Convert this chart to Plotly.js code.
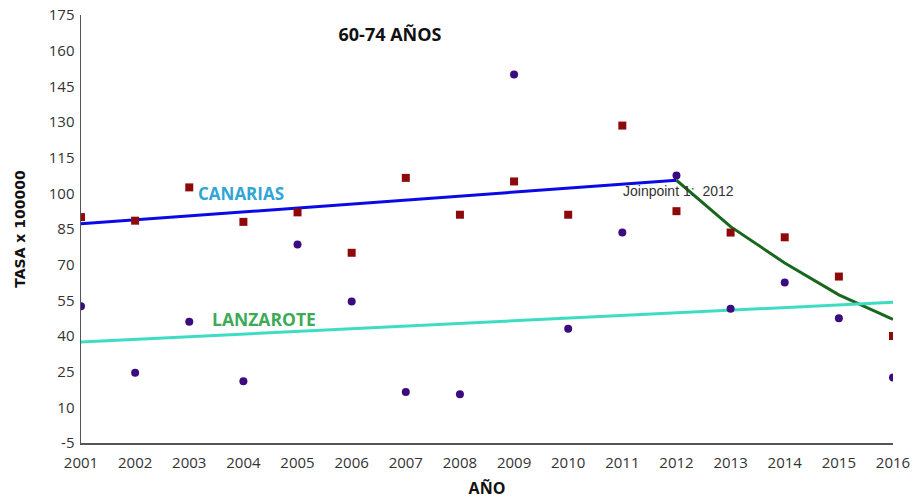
<!DOCTYPE html>
<html>
<head>
<meta charset="utf-8">
<script src="https://cdn.plot.ly/plotly-3.0.1.min.js"></script>
<style>
  body { margin: 0; background: #fff; }
  #chart { width: 914px; height: 500px; }
</style>
</head>
<body>
<div id="chart"></div>
<script>
// years on the x axis
const years = [2001, 2002, 2003, 2004, 2005, 2006, 2007, 2008,
               2009, 2010, 2011, 2012, 2013, 2014, 2015, 2016];

// observed rates (red squares = Canarias, purple dots = Lanzarote)
const canariasRates = [90, 88.5, 102.5, 88, 92, 75, 106.5, 91,
                       105, 91, 128.5, 92.5, 83.5, 81.5, 65, 40];
const lanzaroteRates = [52.5, 24.5, 46, 21, 78.5, 54.5, 16.5, 15.5,
                        150, 43, 83.5, 107.5, 51.5, 62.5, 47.5, 22.5];

// fitted joinpoint segments
const canariasFitYears1 = [2001, 2012];
const canariasFit1 = [87.2, 105.5];
const canariasFitYears2 = [2012, 2013, 2014, 2015, 2016];
const canariasFit2 = [105.5, 86, 70.7, 57.3, 47];
const lanzaroteFitYears = [2001, 2016];
const lanzaroteFit = [37.5, 54.2];

const yTicks = [-5, 10, 25, 40, 55, 70, 85, 100, 115, 130, 145, 160, 175];

const font = 'Open Sans, Liberation Sans, Arial, sans-serif';

const traces = [
    {
        x: canariasFitYears1, y: canariasFit1, type: 'scatter', mode: 'lines',
        line: { color: '#0a0ae6', width: 3 }, name: 'Canarias fit 1'
    },
    {
        x: canariasFitYears2, y: canariasFit2, type: 'scatter', mode: 'lines',
        line: { color: '#19661f', width: 3 }, name: 'Canarias fit 2'
    },
    {
        x: lanzaroteFitYears, y: lanzaroteFit, type: 'scatter', mode: 'lines',
        line: { color: '#3fdcc4', width: 3 }, name: 'Lanzarote fit'
    },
    {
        x: years, y: canariasRates, type: 'scatter', mode: 'markers',
        marker: { symbol: 'square', size: 8, color: '#8e0a0a' }, name: 'Canarias'
    },
    {
        x: years, y: lanzaroteRates, type: 'scatter', mode: 'markers',
        marker: { symbol: 'circle', size: 8, color: '#3b0b80' }, name: 'Lanzarote'
    }
];

const layout = {
    width: 914,
    height: 500,
    margin: { l: 81, r: 21, t: 15, b: 57 },
    paper_bgcolor: '#fff',
    plot_bgcolor: '#fff',
    showlegend: false,
    font: { family: font, size: 15, color: '#333' },
    title: {
        text: '<b>60-74 AÑOS</b>',
        font: { family: font, size: 18, color: '#111' },
        x: 390 / 914, xref: 'container', xanchor: 'center',
        y: 1 - 35 / 500, yref: 'container', yanchor: 'middle'
    },
    xaxis: {
        range: [2001, 2016],
        tickmode: 'array',
        tickvals: years,
        ticktext: years.map(String),
        showgrid: false,
        zeroline: false,
        showline: true,
        linecolor: '#555',
        linewidth: 1.5,
        ticks: '',
        ticklabelstandoff: 5,
        title: {
            text: '<b>AÑO</b>',
            font: { family: font, size: 16, color: '#111' },
            standoff: 12
        }
    },
    yaxis: {
        range: [-5, 175],
        tickmode: 'array',
        tickvals: yTicks,
        ticktext: yTicks.map(String),
        showgrid: false,
        zeroline: false,
        showline: true,
        linecolor: '#555',
        linewidth: 1.5,
        ticks: '',
        ticklabelstandoff: 2,
        title: {
            text: '<b>TASA x 100000</b>',
            font: { family: 'DejaVu Sans, sans-serif', size: 14, color: '#111' },
            standoff: 20
        }
    },
    annotations: [
        {
            x: 2003.12, y: 99.9, xref: 'x', yref: 'y', xanchor: 'left', yanchor: 'middle',
            text: '<b>CANARIAS</b>', showarrow: false,
            font: { family: font, size: 17, color: '#30a5d6' }
        },
        {
            x: 2003.38, y: 47.2, xref: 'x', yref: 'y', xanchor: 'left', yanchor: 'middle',
            text: '<b>LANZAROTE</b>', showarrow: false,
            font: { family: font, size: 17.5, color: '#3daa58' }
        },
        {
            x: 2010.98, y: 101.1, xref: 'x', yref: 'y', xanchor: 'left', yanchor: 'middle',
            text: 'Joinpoint 1:  2012', showarrow: false,
            font: { family: 'Liberation Sans, Arial, sans-serif', size: 14, color: '#333' }
        }
    ]
};

Plotly.newPlot('chart', traces, layout, { displayModeBar: false, staticPlot: true });
</script>
</body>
</html>
